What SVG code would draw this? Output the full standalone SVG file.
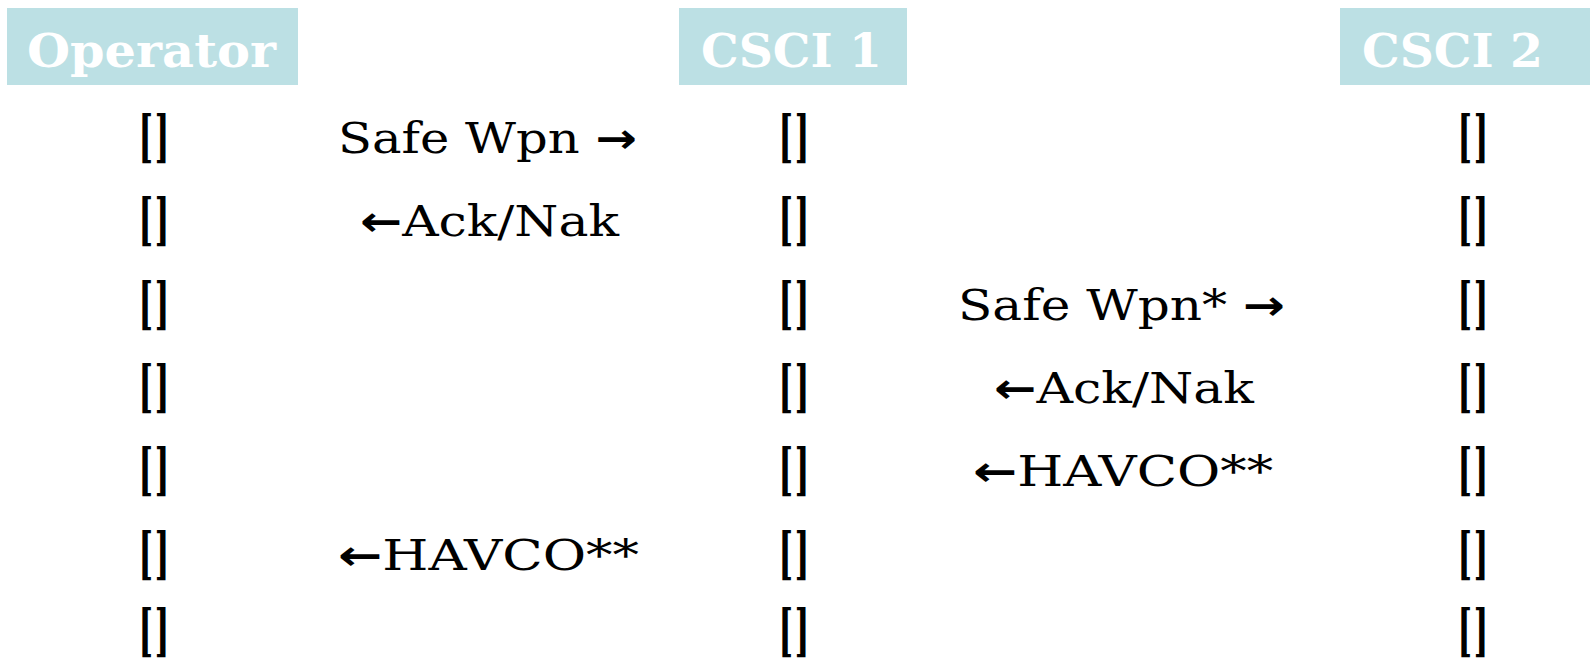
<svg xmlns="http://www.w3.org/2000/svg" width="1590" height="664" viewBox="0 0 1590 664">
  <style>
    .hdr-box { fill: #BCE0E4; }
    .hdr-txt { font-family: "DejaVu Serif", "Liberation Serif", serif; font-weight: bold; font-size: 46px; fill: #FFFFFF; }
    .slot { font-family: "DejaVu Serif", "Liberation Serif", serif; font-size: 56px; font-weight: bold; fill: #000000; text-anchor: middle; }
    .msg { font-family: "DejaVu Serif", "Liberation Serif", serif; font-size: 42px; fill: #000000; }
    .arr { font-family: "DejaVu Sans", sans-serif; font-weight: bold; }
  </style>
  <rect width="1590" height="664" fill="#FFFFFF"/>

  <!-- column headers -->
  <g id="operator">
    <rect class="hdr-box" x="7" y="8" width="291" height="77"/>
    <text class="hdr-txt" x="27" y="67" textLength="249" lengthAdjust="spacingAndGlyphs">Operator</text>
  </g>
  <g id="csci1">
    <rect class="hdr-box" x="679" y="8" width="228" height="77"/>
    <text class="hdr-txt" x="701" y="67" textLength="181" lengthAdjust="spacingAndGlyphs">CSCI 1</text>
  </g>
  <g id="csci2">
    <rect class="hdr-box" x="1340" y="8" width="250" height="77"/>
    <text class="hdr-txt" x="1362" y="67" textLength="181" lengthAdjust="spacingAndGlyphs">CSCI 2</text>
  </g>

  <!-- per-step slots under each column (glyphs narrowed horizontally) -->
  <g id="operator-slots" class="slot">
    <text transform="translate(154 156) scale(0.55 1)">[<tspan dx="3">]</tspan></text>
    <text transform="translate(154 239) scale(0.55 1)">[<tspan dx="3">]</tspan></text>
    <text transform="translate(154 323) scale(0.55 1)">[<tspan dx="3">]</tspan></text>
    <text transform="translate(154 406) scale(0.55 1)">[<tspan dx="3">]</tspan></text>
    <text transform="translate(154 489) scale(0.55 1)">[<tspan dx="3">]</tspan></text>
    <text transform="translate(154 573) scale(0.55 1)">[<tspan dx="3">]</tspan></text>
    <text transform="translate(154 650) scale(0.55 1)">[<tspan dx="3">]</tspan></text>
  </g>
  <g id="csci1-slots" class="slot">
    <text transform="translate(794 156) scale(0.55 1)">[<tspan dx="3">]</tspan></text>
    <text transform="translate(794 239) scale(0.55 1)">[<tspan dx="3">]</tspan></text>
    <text transform="translate(794 323) scale(0.55 1)">[<tspan dx="3">]</tspan></text>
    <text transform="translate(794 406) scale(0.55 1)">[<tspan dx="3">]</tspan></text>
    <text transform="translate(794 489) scale(0.55 1)">[<tspan dx="3">]</tspan></text>
    <text transform="translate(794 573) scale(0.55 1)">[<tspan dx="3">]</tspan></text>
    <text transform="translate(794 650) scale(0.55 1)">[<tspan dx="3">]</tspan></text>
  </g>
  <g id="csci2-slots" class="slot">
    <text transform="translate(1473 156) scale(0.55 1)">[<tspan dx="3">]</tspan></text>
    <text transform="translate(1473 239) scale(0.55 1)">[<tspan dx="3">]</tspan></text>
    <text transform="translate(1473 323) scale(0.55 1)">[<tspan dx="3">]</tspan></text>
    <text transform="translate(1473 406) scale(0.55 1)">[<tspan dx="3">]</tspan></text>
    <text transform="translate(1473 489) scale(0.55 1)">[<tspan dx="3">]</tspan></text>
    <text transform="translate(1473 573) scale(0.55 1)">[<tspan dx="3">]</tspan></text>
    <text transform="translate(1473 650) scale(0.55 1)">[<tspan dx="3">]</tspan></text>
  </g>

  <!-- messages exchanged between columns -->
  <g id="connectors" class="msg">
    <text x="338" y="153" textLength="299" lengthAdjust="spacingAndGlyphs">Safe Wpn <tspan class="arr">→</tspan></text>
    <text x="360" y="236" textLength="259" lengthAdjust="spacingAndGlyphs"><tspan class="arr">←</tspan>Ack/Nak</text>
    <text x="958" y="320" textLength="327" lengthAdjust="spacingAndGlyphs">Safe Wpn* <tspan class="arr">→</tspan></text>
    <text x="994" y="403" textLength="260" lengthAdjust="spacingAndGlyphs"><tspan class="arr">←</tspan>Ack/Nak</text>
    <text x="973" y="486" textLength="300" lengthAdjust="spacingAndGlyphs"><tspan class="arr">←</tspan>HAVCO**</text>
    <text x="338" y="570" textLength="301" lengthAdjust="spacingAndGlyphs"><tspan class="arr">←</tspan>HAVCO**</text>
  </g>
</svg>
